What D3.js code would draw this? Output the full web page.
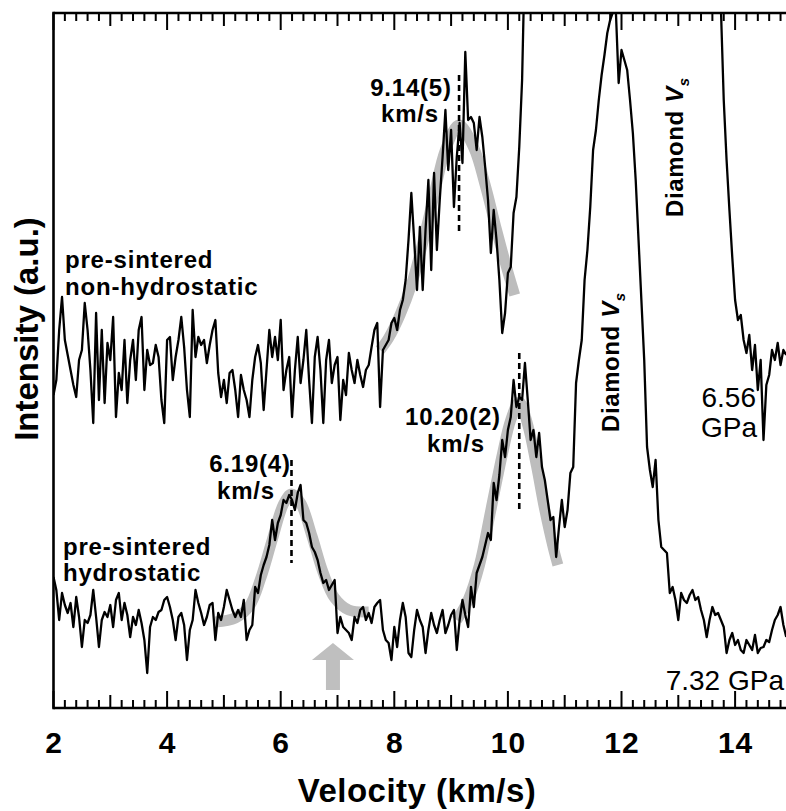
<!DOCTYPE html>
<html><head><meta charset="utf-8">
<script src="https://cdn.jsdelivr.net/npm/d3@7"></script>
<style>
html,body{margin:0;padding:0;background:#fff;}
svg{display:block;font-family:"Liberation Sans",Arial,Helvetica,sans-serif;}
</style></head>
<body><svg id="chart" width="786" height="811"></svg>
<script>
// ---------------- DATA ----------------
// velocity grid (km/s): 2.00 .. 14.90 in 0.05 steps (259 channels)
const velocityStart = 2.0, velocityStep = 0.05, channelCount = 259;

// pre-sintered non-hydrostatic, 6.56 GPa (intensity, a.u.) — one row per km/s
const nonHydrostatic = [
  313,328,378,411,368,353,338,323,311,348,358,405,378,338,285,395,308,378,305,365,
  348,391,291,335,318,368,305,348,368,328,378,391,318,358,343,345,363,351,308,285,
  368,371,328,351,368,391,361,318,291,398,351,371,363,368,345,363,378,388,335,311,
  328,305,335,338,318,291,333,318,308,291,328,351,363,345,298,338,378,351,371,348,
  388,318,338,351,291,338,371,325,348,378,328,285,351,371,338,285,348,368,325,343,
  351,288,328,313,355,338,325,348,333,321,338,343,361,378,385,301,358,363,368,385,
  390,378,398,408,428,468,515,468,418,481,418,478,528,438,535,458,508,551,598,538,
  578,501,551,585,545,656,588,591,585,558,591,571,541,508,455,498,468,428,375,395,
  435,441,495,511,561,628,760,800,840,880,920,950,980,1000,1020,1040,1060,1080,1100,1120,
  1140,1160,1180,1200,1220,1240,1260,1280,1300,1320,1340,1360,1380,1400,1420,1440,1450,1460,1470,1480,
  1480,1470,1460,1440,1420,1400,1370,1340,1310,1280,1250,1220,1190,1160,1130,1100,1070,1040,1010,980,
  950,920,890,860,830,800,780,760,745,735,725,718,712,708,705,700,608,548,498,451,
  408,388,393,368,355,373,338,363,318,348,268,323,333,358,348,365,343,358,353
];

// pre-sintered hydrostatic, 7.32 GPa (intensity, a.u.)
const hydrostatic = [
  131,118,88,115,103,95,105,81,111,91,61,88,85,93,118,91,61,88,96,91,
  103,81,108,115,88,105,93,71,91,83,98,85,68,35,81,91,88,96,98,108,
  111,101,88,68,91,95,83,48,78,88,118,105,95,83,91,103,105,68,95,88,
  101,118,108,98,91,98,91,108,68,78,83,121,115,133,143,151,163,188,168,185,
  193,208,205,213,208,198,215,223,188,185,175,161,156,148,135,125,128,118,123,128,
  75,91,81,78,75,68,91,85,98,101,88,95,85,101,105,108,78,68,65,48,
  81,61,88,105,91,55,51,78,98,88,81,55,78,95,83,75,88,98,75,83,
  93,98,58,88,108,93,81,121,101,135,143,151,163,175,168,225,208,233,268,251,
  278,291,328,301,311,308,345,308,268,278,251,275,241,228,208,188,191,151,181,208,
  181,198,235,241,325,348,368,428,458,501,558,578,608,633,653,675,688,696,698,625,
  658,648,638,608,575,528,468,408,348,261,238,221,248,188,161,158,155,115,121,108,
  88,115,108,105,113,118,108,111,98,88,71,88,101,93,95,88,81,55,68,75,
  63,68,58,55,68,63,58,73,55,60,61,68,66,78,88,93,101,83,71
];

// fitted peaks (grey bands)
const fitNonHydroV = [7.75,7.90,8.10,8.30,8.50,8.70,8.90,9.14,9.40,9.60,9.80,10.00,10.12];
const fitNonHydroI = [358,370,393,423,465,513,558,583,560,523,478,436,413];
const fitHydro1V = [4.85,5.20,5.45,5.65,5.85,6.05,6.19,6.35,6.55,6.75,6.95,7.20,7.55];
const fitHydro1I = [86,90,102,130,168,204,214,205,172,135,110,98,96];
const fitHydro2V = [9.10,9.30,9.50,9.70,9.90,10.05,10.20,10.35,10.50,10.65,10.80,10.88];
const fitHydro2I = [88,108,143,198,253,288,306,283,243,198,160,143];

// peak positions (km/s) and their marker spans (intensity)
const peakV = [9.14, 6.19, 10.20];
const peakLow = [475, 145, 196];
const peakHigh = [633, 248, 355];
const peakText = ["9.14(5)", "6.19(4)", "10.20(2)"];

const arrowV = 6.92;
const xTicks = [2,4,6,8,10,12,14];
const midTicks = [3,5,7,9,11,13];
const minorTicks = [2.2,2.4,2.6,2.8,3.2,3.4,3.6,3.8,4.2,4.4,4.6,4.8,5.2,5.4,5.6,5.8,6.2,6.4,6.6,6.8,
  7.2,7.4,7.6,7.8,8.2,8.4,8.6,8.8,9.2,9.4,9.6,9.8,10.2,10.4,10.6,10.8,11.2,11.4,11.6,11.8,
  12.2,12.4,12.6,12.8,13.2,13.4,13.6,13.8,14.2,14.4,14.6,14.8];

// ---------------- LAYOUT ----------------
const L = 53.5, T = 13, B = 708, pxPerUnit = 56.8;
const svg = d3.select("#chart");
const x = d3.scaleLinear().domain([2, 15]).range([L, L + 13 * pxPerUnit]);
const y = d3.scaleLinear().domain([0, 695]).range([B, T]);
const velocity = d3.range(channelCount).map(i => +(velocityStart + velocityStep * i).toFixed(2));

svg.append("defs").append("clipPath").attr("id","plotclip")
  .append("rect").attr("x", L).attr("y", T).attr("width", 786 - L).attr("height", B - T);
const plot = svg.append("g").attr("clip-path","url(#plotclip)");

// grey fits
const fitLine = d3.line().x(d => x(d[0])).y(d => y(d[1])).curve(d3.curveCatmullRom);
[[fitNonHydroV, fitNonHydroI],[fitHydro1V, fitHydro1I],[fitHydro2V, fitHydro2I]].forEach(([vs, is]) => {
  plot.append("path").datum(vs.map((v,i)=>[v, is[i]]))
    .attr("d", fitLine).attr("fill","none").attr("stroke","#bdbdbd")
    .attr("stroke-width", 11).attr("stroke-linecap","butt");
});

// spectra
const specLine = d3.line().x((d,i) => x(velocity[i])).y(d => y(d));
[nonHydrostatic, hydrostatic].forEach(s => {
  plot.append("path").datum(s).attr("d", specLine).attr("fill","none")
    .attr("stroke","#000").attr("stroke-width", 2.3).attr("stroke-linejoin","round");
});

// dashed peak markers
peakV.forEach((v,i) => {
  plot.append("line").attr("x1", x(v)).attr("x2", x(v))
    .attr("y1", y(peakHigh[i])).attr("y2", y(peakLow[i]))
    .attr("stroke","#000").attr("stroke-width", 2.6).attr("stroke-dasharray","6,4");
});

// grey arrow
const ax = x(arrowV);
svg.append("path").attr("fill","#bfbfbf")
  .attr("d", `M${ax},643 L${ax+21},660 L${ax+7},660 L${ax+7},690 L${ax-7},690 L${ax-7},660 L${ax-21},660 Z`);

// inward tick marks as small filled rectangles, placed with the x scale
const tickData = [];
[[minorTicks, 8], [midTicks, 13], [xTicks, 17]].forEach(([vals, len]) => {
  vals.forEach(v => { tickData.push({v: v, len: len, top: false}); tickData.push({v: v, len: len, top: true}); });
});
svg.append("g").selectAll("rect").data(tickData).join("rect")
  .attr("x", d => x(d.v) - 1)
  .attr("width", 2)
  .attr("y", d => d.top ? T : B - d.len)
  .attr("height", d => d.len)
  .attr("fill", "#000");

// axes frame
const frame = svg.append("g").attr("stroke","#000").attr("stroke-width", 2.6).attr("fill","none");
frame.append("line").attr("x1", L).attr("x2", 786).attr("y1", B).attr("y2", B);
frame.append("line").attr("x1", L).attr("x2", 786).attr("y1", T).attr("y2", T);
frame.append("line").attr("x1", L).attr("x2", L).attr("y1", T - 1.3).attr("y2", B + 1.3);

// tick labels via axis
const xAxis = d3.axisBottom(x).tickValues(xTicks).tickSize(0).tickPadding(0).tickFormat(d3.format("d"));
const gx = svg.append("g").attr("transform", `translate(0,${B})`).call(xAxis);
gx.select(".domain").remove();
gx.selectAll("text").attr("y", 45).attr("dy", null)
  .style("font-size","30px").style("font-weight","bold").style("fill","#000")
  .style("font-family",'"Liberation Sans",Arial,sans-serif').style("letter-spacing","1px");

// axis titles
svg.append("text").attr("x", 417).attr("y", 802).attr("text-anchor","middle")
  .style("font-size","33px").style("font-weight","bold").style("letter-spacing","0.5px")
  .text("Velocity (km/s)");
svg.append("text").attr("transform","translate(38,329) rotate(-90)").attr("text-anchor","middle")
  .style("font-size","33px").style("font-weight","bold")
  .text("Intensity (a.u.)");

// annotations
function label(txt, xx, yy, opts) {
  return svg.append("text").attr("x", xx).attr("y", yy)
    .attr("text-anchor", (opts && opts.anchor) || "start")
    .style("font-size", ((opts && opts.size) || 24) + "px")
    .style("font-weight", (opts && opts.weight) || "bold")
    .style("letter-spacing", ((opts && opts.ls !== undefined) ? opts.ls : 0.8) + "px")
    .text(txt);
}
label(peakText[0], 411, 96, {anchor:"middle"});
label("km/s", 410, 122, {anchor:"middle"});
label(peakText[1], 250, 472, {anchor:"middle"});
label("km/s", 246, 499, {anchor:"middle"});
label(peakText[2], 453, 425, {anchor:"middle"});
label("km/s", 456, 452, {anchor:"middle"});

label("pre-sintered", 65, 268);
label("non-hydrostatic", 65, 295);
label("pre-sintered", 63, 555);
label("hydrostatic", 63, 581);

label("6.56", 756, 407, {anchor:"end", size:28, weight:"normal", ls:0});
label("GPa", 757, 437, {anchor:"end", size:28, weight:"normal", ls:0});
label("7.32 GPa", 784, 690, {anchor:"end", size:28, weight:"normal", ls:0});

function diamond(xx, yy) {
  const t = svg.append("text").attr("transform", `translate(${xx},${yy}) rotate(-90)`)
    .style("font-size","24px").style("font-weight","bold").style("letter-spacing","0.6px");
  t.append("tspan").text("Diamond ");
  t.append("tspan").style("font-style","italic").text("V");
  t.append("tspan").style("font-style","italic").style("font-size","15px").attr("dy", 6).text("s");
}
diamond(683, 217);
diamond(619, 432);
</script>
</body></html>
